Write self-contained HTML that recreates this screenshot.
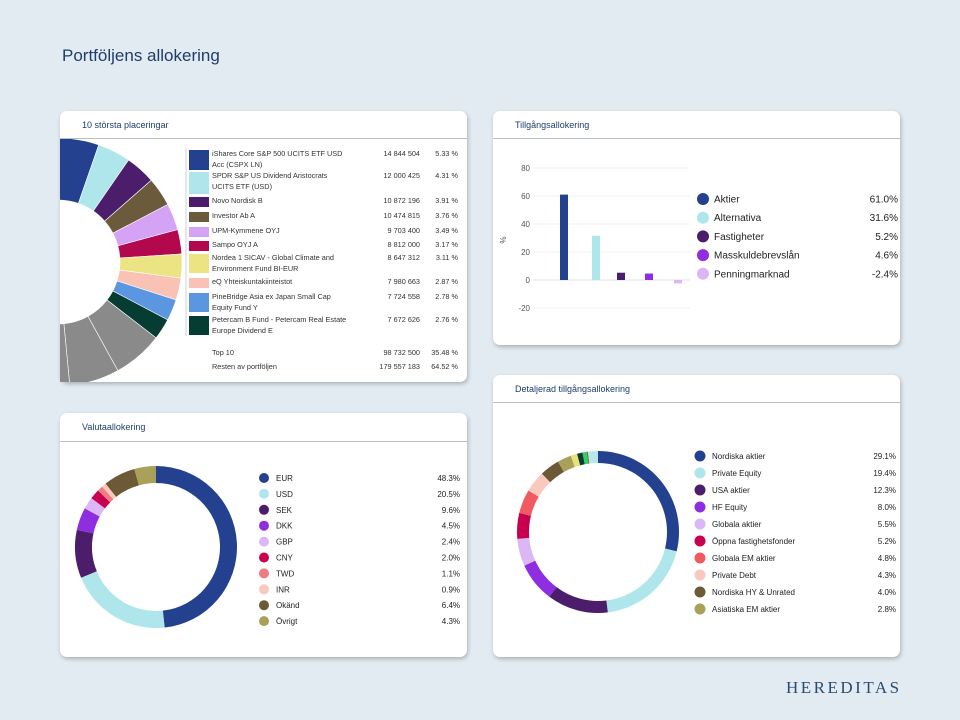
<!DOCTYPE html>
<html><head><meta charset="utf-8"><style>
body{margin:0;width:960px;height:720px;background:#e3ebf2;font-family:"Liberation Sans",sans-serif;position:relative;overflow:hidden}
.card{position:absolute;background:#fff;border-radius:7px;box-shadow:1px 2px 4px rgba(0,0,0,.25);overflow:hidden}
.card .hd{position:absolute;left:0;right:0;top:0;height:27px;border-bottom:1px solid #b8bfc6}
.card .hd span{position:absolute;left:22px;top:9px;font-size:9px;color:#1f3d6b}
svg{position:absolute;left:0;top:0}
svg text{font-family:"Liberation Sans",sans-serif}
</style></head><body>
<div style="position:absolute;left:62px;top:46px;font-size:17px;color:#1f3d6b">Portföljens allokering</div>
<div class="card" style="left:60px;top:111px;width:407px;height:271px"><div class="hd"><span>10 största placeringar</span></div></div>
<div class="card" style="left:493px;top:111px;width:407px;height:234px"><div class="hd"><span>Tillgångsallokering</span></div></div>
<div class="card" style="left:60px;top:413px;width:407px;height:244px"><div class="hd" style="height:28px"><span>Valutaallokering</span></div></div>
<div class="card" style="left:493px;top:375px;width:407px;height:282px"><div class="hd" style="height:27px"><span>Detaljerad tillgångsallokering</span></div></div>
<div style="position:absolute;left:786px;top:678px;font-family:'Liberation Serif',serif;font-size:17px;letter-spacing:2.5px;color:#2a4a70">HEREDITAS</div>
<svg id="s" width="960" height="720"></svg>
<script>
const top10Names=["iShares Core S&P 500 UCITS ETF USD|Acc (CSPX LN)","SPDR S&P US Dividend Aristocrats|UCITS ETF (USD)","Novo Nordisk B","Investor Ab A","UPM-Kymmene OYJ","Sampo OYJ A","Nordea 1 SICAV - Global Climate and|Environment Fund BI-EUR","eQ Yhteiskuntakiinteistot","PineBridge Asia ex Japan Small Cap|Equity Fund Y","Petercam B Fund - Petercam Real Estate|Europe Dividend E"];
const top10Amounts=["14 844 504","12 000 425","10 872 196","10 474 815","9 703 400","8 812 000","8 647 312","7 980 663","7 724 558","7 672 626"];
const top10Pct=[5.33,4.31,3.91,3.76,3.49,3.17,3.11,2.87,2.78,2.76];
const restSlices=[6.5,6.5,6.5,6.5,6.5,6.5,6.5,6.5,6.5,6.02];
const assetCats=["Aktier","Alternativa","Fastigheter","Masskuldebrevslån","Penningmarknad"];
const assetVals=[61.0,31.6,5.2,4.6,-2.4];
const assetTicks=[80,60,40,20,0,-20];
const curCats=["EUR","USD","SEK","DKK","GBP","CNY","TWD","INR","Okänd","Övrigt"];
const curVals=[48.3,20.5,9.6,4.5,2.4,2.0,1.1,0.9,6.4,4.3];
const detCats=["Nordiska aktier","Private Equity","USA aktier","HF Equity","Globala aktier","Öppna fastighetsfonder","Globala EM aktier","Private Debt","Nordiska HY & Unrated","Asiatiska EM aktier"];
const detVals=[29.1,19.4,12.3,8.0,5.5,5.2,4.8,4.3,4.0,2.8];
const detExtra=[1.3,1.1,0.8,0.3,2.0];

const S=document.getElementById('s'),NS="http://www.w3.org/2000/svg";
function el(t,a,p){const e=document.createElementNS(NS,t);for(const k in a)e.setAttribute(k,a[k]);(p||S).appendChild(e);return e;}
function txt(x,y,s,a){const e=el('text',Object.assign({x:x,y:y},a));e.textContent=s;return e;}
function arc(cx,cy,R,r,a0,a1){const f=a=>[Math.cos(a),Math.sin(a)];const[c0,s0]=f(a0),[c1,s1]=f(a1);const l=(a1-a0)>Math.PI?1:0;
return `M${cx+R*c0},${cy+R*s0}A${R},${R} 0 ${l} 1 ${cx+R*c1},${cy+R*s1}L${cx+r*c1},${cy+r*s1}A${r},${r} 0 ${l} 0 ${cx+r*c0},${cy+r*s0}Z`;}
function donut(cx,cy,R,r,vals,cols,name,stroke,clip){const tot=vals.reduce((a,b)=>a+b,0);let a=-Math.PI/2;const g=el('g',clip?{'clip-path':clip}:{});
vals.forEach((v,i)=>{const b=a+v/tot*2*Math.PI;const p=el('path',{d:arc(cx,cy,R,r,a,b),fill:cols[i],stroke:stroke||'none','stroke-width':stroke?0.6:0},g);

a=b;});}

const t10c=["#24418f","#aee6ec","#4b1d6a","#6b5a3b","#d5a3f5","#b3084d","#ece483","#f9c2b5","#5b97e0","#063d33"];
const defs=el('defs',{});const cp=el('clipPath',{id:'c1'},defs);el('rect',{x:60,y:139,width:407,height:243},cp);
donut(58,262,124,62,top10Pct.concat(restSlices),t10c.concat(restSlices.map(()=>"#8a8a8a")),'top10-slice','#fff','url(#c1)');
const swY=[[150,20],[172,22],[197,10],[212,10],[227,10],[241,10],[254,19],[278,10],[293,19],[316,19]];
top10Names.forEach((n,i)=>{const [y,h]=swY[i];const r=el('rect',{x:189,y:y,width:20,height:h,fill:t10c[i]});


n.split('|').forEach((l,j)=>txt(212,y+6+j*11,l,{'font-size':7.3,fill:'#333'}));
txt(420,y+6,top10Amounts[i],{'font-size':7.3,fill:'#333','text-anchor':'end'});
txt(458,y+6,top10Pct[i].toFixed(2)+' %',{'font-size':7.3,fill:'#333','text-anchor':'end'});});
el('line',{x1:186,y1:148,x2:186,y2:336,stroke:'#c8d0e0','stroke-width':1});
txt(212,355,"Top 10",{'font-size':7.3,fill:'#333'});txt(420,355,"98 732 500",{'font-size':7.3,fill:'#333','text-anchor':'end'});txt(458,355,"35.48 %",{'font-size':7.3,fill:'#333','text-anchor':'end'});
txt(212,369,"Resten av portföljen",{'font-size':7.3,fill:'#333'});txt(420,369,"179 557 183",{'font-size':7.3,fill:'#333','text-anchor':'end'});txt(458,369,"64.52 %",{'font-size':7.3,fill:'#333','text-anchor':'end'});

const yS=v=>280-v*1.4;const assetCol=["#24418f","#aee6ec","#4b1d6a","#8e2ee0","#dcb6f5"];const bx=[564,596,621,649,678];
assetTicks.forEach(t=>{el('line',{x1:533,y1:yS(t),x2:690,y2:yS(t),stroke:t==0?'#ddd':'#eee','stroke-width':0.7});txt(530,yS(t)+3,String(t),{'font-size':8,fill:'#555','text-anchor':'end'});});
txt(506,240,"%",{'font-size':8,fill:'#555',transform:'rotate(-90 506 240)','text-anchor':'middle'});
assetVals.forEach((v,i)=>{const r=el('rect',{x:bx[i]-4,y:Math.min(yS(v),yS(0)),width:8,height:Math.abs(yS(v)-yS(0)),fill:assetCol[i]});


const y=199+i*18.7;el('circle',{cx:703,cy:y,r:6,fill:assetCol[i]});txt(714,y+3.5,assetCats[i],{'font-size':10,fill:'#222'});txt(898,y+3.5,v.toFixed(1)+'%',{'font-size':10,fill:'#222','text-anchor':'end'});});

const curCol=["#24418f","#aee6ec","#4b1d6a","#8e2ee0","#dcb6f5","#c8004f","#f07b80","#fbc8bd","#6b5a35","#a9a15a"];
donut(156,547,81,64,curVals,curCol,'currency-slice');
curCats.forEach((c,i)=>{const y=478+i*15.9;el('circle',{cx:264,cy:y,r:5,fill:curCol[i]});txt(276,y+3,c,{'font-size':8,fill:'#222'});txt(460,y+3,curVals[i].toFixed(1)+'%',{'font-size':8,fill:'#222','text-anchor':'end'});});

const detCol=["#24418f","#aee6ec","#4b1d6a","#8e2ee0","#dcb6f5","#c8004f","#f05a60","#fbc8bd","#6b5a35","#a9a15a"];
const exCol=["#e8e07a","#0b3d2e","#2bd36a","#7a7a40","#b8e8ee"];
donut(598,532,81,69,detVals.concat(detExtra),detCol.concat(exCol),'detail-slice');
detCats.forEach((c,i)=>{const y=456+i*17;el('circle',{cx:700,cy:y,r:5.5,fill:detCol[i]});txt(712,y+3,c,{'font-size':8,fill:'#222'});txt(896,y+3,detVals[i].toFixed(1)+'%',{'font-size':8,fill:'#222','text-anchor':'end'});});
</script>
</body></html>
